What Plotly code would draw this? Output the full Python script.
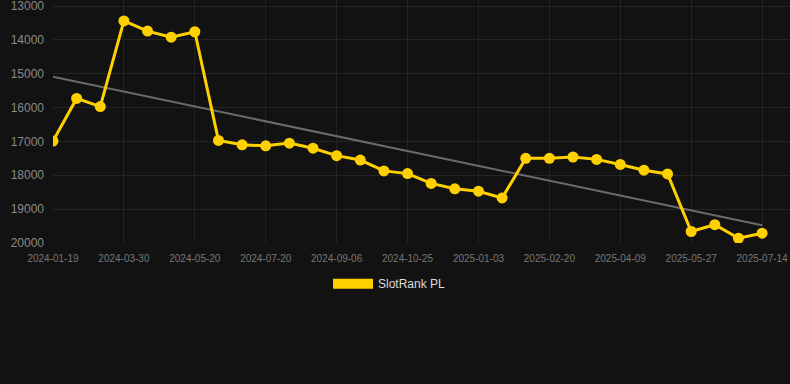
import numpy as np
import plotly.graph_objects as go

dates = [
    "2024-01-19", "2024-02-12", "2024-03-06", "2024-03-30", "2024-04-16", "2024-05-03",
    "2024-05-20", "2024-06-09", "2024-06-29", "2024-07-20", "2024-08-05", "2024-08-21",
    "2024-09-06", "2024-09-22", "2024-10-09", "2024-10-25", "2024-11-17", "2024-12-10",
    "2025-01-03", "2025-01-19", "2025-02-04", "2025-02-20", "2025-03-08", "2025-03-24",
    "2025-04-09", "2025-04-25", "2025-05-11", "2025-05-27", "2025-06-12", "2025-06-28",
    "2025-07-14",
]
ranks = [
    16990, 15730, 15970, 13440, 13740, 13920,
    13760, 16970, 17100, 17130, 17050, 17200,
    17420, 17550, 17870, 17950, 18240, 18400,
    18470, 18670, 17500, 17500, 17460, 17530,
    17680, 17850, 17960, 19660, 19460, 19860,
    19710,
]
tick_labels = dates[::3]
y_ticks = [13000, 14000, 15000, 16000, 17000, 18000, 19000, 20000]
series_name = "SlotRank PL"

idx = np.arange(len(dates))
slope, intercept = np.polyfit(idx, ranks, 1)
trend = slope * idx + intercept

fig = go.Figure()
fig.add_trace(go.Scatter(
    x=idx, y=trend, mode="lines",
    line=dict(color="#6b6b6b", width=2),
    showlegend=False, hoverinfo="skip",
))
fig.add_trace(go.Scatter(
    x=idx, y=ranks, mode="lines+markers",
    line=dict(color="#FFD000", width=3),
    marker=dict(color="#FFD000", size=11),
    name=series_name, showlegend=False,
))
fig.add_trace(go.Scatter(
    x=[None], y=[None], mode="lines",
    line=dict(color="#FFD000", width=12),
    name=series_name, showlegend=True,
))

fig.update_layout(
    width=790, height=384,
    paper_bgcolor="#121212", plot_bgcolor="#121212",
    margin=dict(l=53, r=0, t=0, b=141),
    font=dict(family="Liberation Sans, Arial, sans-serif", color="#999999"),
    legend=dict(
        orientation="h", x=0.4566, xanchor="center", y=-0.108, yanchor="top",
        font=dict(size=12, color="#dddddd"), bgcolor="rgba(0,0,0,0)",
        itemwidth=40,
    ),
    showlegend=True,
)
fig.update_xaxes(
    range=[0, 31.18],
    tickmode="array", tickvals=idx[::3], ticktext=tick_labels,
    tickfont=dict(size=10, color="#777777"),
    showgrid=True, gridcolor="#222222", gridwidth=1,
    zeroline=False, showline=False, ticks="", ticklabelstandoff=8,
    ticklabeloverflow="allow",
)
fig.update_yaxes(
    range=[20000, 12822],
    tickmode="array", tickvals=y_ticks, ticktext=[str(v) for v in y_ticks],
    tickfont=dict(size=12, color="#8a8a8a"),
    showgrid=True, gridcolor="#242424", gridwidth=1,
    zeroline=False, showline=False, ticks="", ticklabelstandoff=8,
    ticklabeloverflow="allow",
)

fig.write_html(
    "out.html",
    config={"displayModeBar": False},
    post_script="document.body.style.margin='0';document.body.style.background='#121212';",
)
